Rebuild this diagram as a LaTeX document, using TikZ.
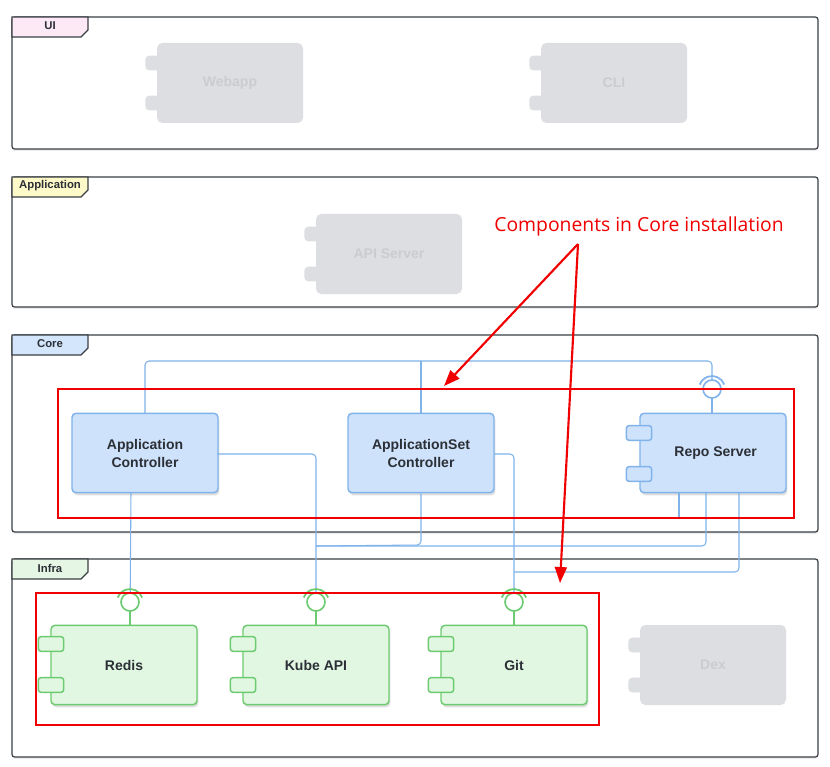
\documentclass[tikz,border=0pt]{standalone}
\usepackage{fontspec}
\setmainfont{Liberation Sans}
\newfontfamily\annfont{Open Sans}
\usetikzlibrary{shadows,arrows.meta}
\definecolor{frameC}{HTML}{3A3F45}
\definecolor{coreF}{HTML}{CFE2FB}
\definecolor{coreB}{HTML}{7FB3EA}
\definecolor{infF}{HTML}{E2F7E2}
\definecolor{infB}{HTML}{6CCB70}
\definecolor{ghostF}{HTML}{DDDEE1}
\definecolor{ghostT}{HTML}{CBCCD0}
\definecolor{lbl}{HTML}{2B2F36}
\definecolor{redC}{HTML}{F00000}
\tikzset{
  x=0.75pt,y=-0.75pt,
  layer/.style={draw=frameC,line width=0.9pt,rounded corners=2pt,fill=white,drop shadow={shadow xshift=0pt,shadow yshift=-1.5pt,opacity=0.15}},
  tab/.style={draw=frameC,line width=0.9pt},
  tabtxt/.style={font=\fontsize{8.5}{10}\selectfont\bfseries,text=lbl},
  comp/.style={draw=#1B,fill=#1F,line width=1.1pt,rounded corners=3pt,minimum width=109.5pt,minimum height=59.5pt,align=center,font=\fontsize{10.5}{13.5}\selectfont\bfseries,text=lbl,drop shadow={shadow xshift=1pt,shadow yshift=-2pt,opacity=0.25}},
  port/.style={draw=#1B,fill=#1F,line width=1.1pt,rounded corners=2pt,minimum width=19pt,minimum height=11pt,inner sep=0pt},
  ghost/.style={fill=ghostF,rounded corners=4pt,minimum width=109.5pt,minimum height=60pt,font=\fontsize{10.5}{13}\selectfont\bfseries,text=ghostT},
  gport/.style={fill=ghostF,rounded corners=3pt,minimum width=19pt,minimum height=11pt,inner sep=0pt},
  wire/.style={draw=coreB,line width=0.8pt,rounded corners=3pt},
  redbox/.style={draw=redC,line width=2pt},
  redarrow/.style={draw=redC,line width=1.6pt,-{Triangle[length=12pt,width=9pt]}},
  sock/.style={draw=#1,line width=1.2pt,fill=white},
}
\begin{document}
\begin{tikzpicture}
\useasboundingbox (0,0) rectangle (830,766);
\fill[white] (0,0) rectangle (830,766);
% layers
\foreach \n/\ya/\yb/\col/\t in {ui/17/149/FDE9F5/UI,app/177/307/FDF9C8/Application,core/335/532/D3E6FB/Core,infra/559/757/E6F6E4/Infra}{
  \path[layer] (12,\ya) rectangle (818,\yb);
  \definecolor{tc}{HTML}{\col}
  \filldraw[tab,fill=tc] (12,\ya) -- (88,\ya) -- (88,\ya+13) -- (81,\ya+20) -- (12,\ya+20) -- cycle;
  \node[tabtxt] (tab-\n) at (50,\ya+9) {\t};
}
% ghosts
\foreach \n/\cx/\cy/\t in {webapp/230/83/Webapp,cli/614/83/CLI,api/389/254/API Server,dex/713/665/Dex}{
  \node[ghost] (\n) at (\cx,\cy) {\t};
  \node[gport] (\n-p1) at (\cx-72,\cy-20) {};
  \node[gport] (\n-p2) at (\cx-72,\cy+20) {};
}
% core components
\node[comp=core] (ac) at (145,453) {Application\\Controller};
\node[comp=core] (asc) at (421,453) {ApplicationSet\\Controller};
\node[comp=core] (repo) at (713,453) {\hspace*{4pt}Repo Server};
\node[port=core] (repo-p1) at (639,433) {};
\node[port=core] (repo-p2) at (639,474) {};
% infra components
\node[comp=inf] (redis) at (124,665) {Redis};
\node[comp=inf] (kube) at (316,665) {Kube API};
\node[comp=inf] (git) at (514,665) {Git};
\foreach \c/\x in {redis/51,kube/243,git/441}{
  \node[port=inf] (\c-p1) at (\x,644) {};
  \node[port=inf] (\c-p2) at (\x,685) {};
}
% sockets
\coordinate (sRepo) at (712,389);
\coordinate (sRedis) at (130,602);
\coordinate (sKube) at (316,602);
\coordinate (sGit) at (514,602);
\coordinate (j1) at (316,546);
\coordinate (j2) at (514,572);
% wires
\draw[wire] (145,413) -- (145,361) -- (712,361) -- ([yshift=-13]sRepo);
\draw[wire] (asc.north) -- (421,361);
\draw[wire] (131,492) -- ([yshift=-13]sRedis);
\draw[wire] (217,454) -- (316,454) -- ([yshift=-13]sKube);
\draw[wire] (494,454) -- (514,454) -- ([yshift=-13]sGit);
\draw[wire] (asc.south) -- (421,545) -- (j1);
\draw[wire] (706,492) -- (706,546) -- (j1);
\draw[wire] (739,492) -- (739,572) -- (j2);
\draw[wire] (679,492) -- (679,518);
\draw[draw=coreB,line width=0.8pt] (sRepo) -- (712,413);
\foreach \s/\c in {sRedis/infB,sKube/infB,sGit/infB}{
  \draw[draw=\c,line width=1pt] (\s) -- ++(0,23);
  \draw[draw=\c,line width=1.3pt] ([shift={(-20:13)}]\s) arc[start angle=-20,end angle=-160,radius=13];
  \draw[sock=\c] (\s) circle[radius=9];
}
\draw[draw=coreB,line width=1.3pt] ([shift={(-20:13)}]sRepo) arc[start angle=-20,end angle=-160,radius=13];
\draw[sock=coreB] (sRepo) circle[radius=9];
% red annotation
\draw[redbox] (58,389) rectangle (794,518);
\draw[redbox] (36,593) rectangle (599,725);
\node[text=redC,font=\annfont\fontsize{14.5}{17}\selectfont] (ann) at (639,226) {Components in Core installation};
\coordinate (a0) at (578,244);
\coordinate (t1) at (444,386);
\coordinate (t2) at (560,583);
\draw[redarrow] (a0) -- (t1);
\draw[redarrow] (a0) -- (t2);
\end{tikzpicture}
\end{document}
